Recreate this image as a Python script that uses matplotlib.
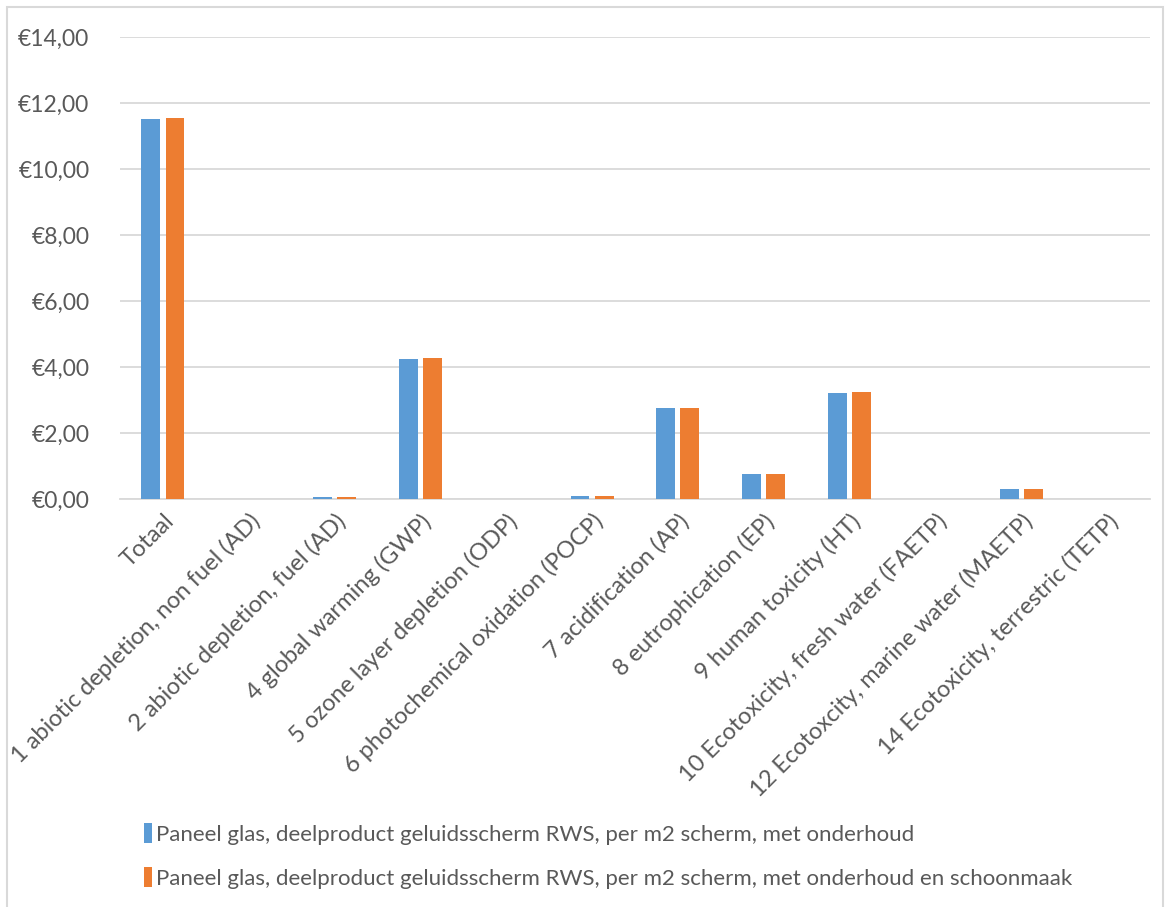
import matplotlib.pyplot as plt
from matplotlib.patches import Rectangle
import numpy as np

# Categorieën en waarden (euro per m2 scherm)
categorieen = [
    "Totaal",
    "1 abiotic depletion, non fuel (AD)",
    "2 abiotic depletion, fuel (AD)",
    "4 global warming (GWP)",
    "5 ozone layer depletion (ODP)",
    "6 photochemical oxidation (POCP)",
    "7 acidification (AP)",
    "8 eutrophication (EP)",
    "9 human toxicity (HT)",
    "10 Ecotoxicity, fresh water (FAETP)",
    "12 Ecotoxcity, marine water (MAETP)",
    "14 Ecotoxicity, terrestric (TETP)",
]
met_onderhoud = [11.51, 0.0, 0.07, 4.24, 0.0, 0.09, 2.75, 0.76, 3.22, 0.01, 0.30, 0.0]
met_schoonmaak = [11.56, 0.0, 0.07, 4.27, 0.0, 0.09, 2.76, 0.76, 3.24, 0.01, 0.30, 0.0]

reeks1 = "Paneel glas, deelproduct geluidsscherm RWS, per m2 scherm, met onderhoud"
reeks2 = "Paneel glas, deelproduct geluidsscherm RWS, per m2 scherm, met onderhoud en schoonmaak"

blauw = "#5b9bd5"
oranje = "#ed7d31"
tekst = "#595959"

plt.rcParams['font.family'] = ['Lato', 'DejaVu Sans']

fig = plt.figure(figsize=(11.71, 9.07), dpi=100)
ax = fig.add_axes([0.1025, 0.4498, 0.8795, 0.5092])

x = np.arange(len(categorieen))
breedte = 0.22
ax.bar(x - 0.14, met_onderhoud, breedte, color=blauw, label=reeks1, zorder=3)
ax.bar(x + 0.14, met_schoonmaak, breedte, color=oranje, label=reeks2, zorder=3)

ax.set_xlim(-0.5, len(categorieen) - 0.5)
ax.set_ylim(0, 14)
ax.set_yticks(np.arange(0, 15, 2))
ax.set_yticklabels(["€%d,00" % v for v in range(0, 15, 2)])
ax.grid(axis='y', color="#d9d9d9", linewidth=1.3, zorder=0)

for kant in ['left', 'right', 'top']:
    ax.spines[kant].set_visible(False)
ax.spines['bottom'].set_color("#d9d9d9")
ax.spines['bottom'].set_linewidth(1.3)

ax.set_xticks(x)
ax.set_xticklabels(categorieen, rotation=45, ha='right', rotation_mode='anchor')
ax.tick_params(axis='both', length=0, colors=tekst)
ax.tick_params(axis='x', pad=8, labelsize=17)
ax.tick_params(axis='y', pad=22, labelsize=16.5)

fig.legend(loc='lower left', bbox_to_anchor=(0.106, -0.002), frameon=False,
           fontsize=16, labelcolor=tekst, handlelength=0.35, handleheight=1.0,
           handletextpad=0.2, labelspacing=1.0)

# Kader rond de grafiek
fig.patches.append(Rectangle((0.006, -0.01), 0.987, 1.002, transform=fig.transFigure,
                             fill=False, edgecolor="#d9d9d9", linewidth=1.5))

fig.savefig("out.png", dpi=100)
